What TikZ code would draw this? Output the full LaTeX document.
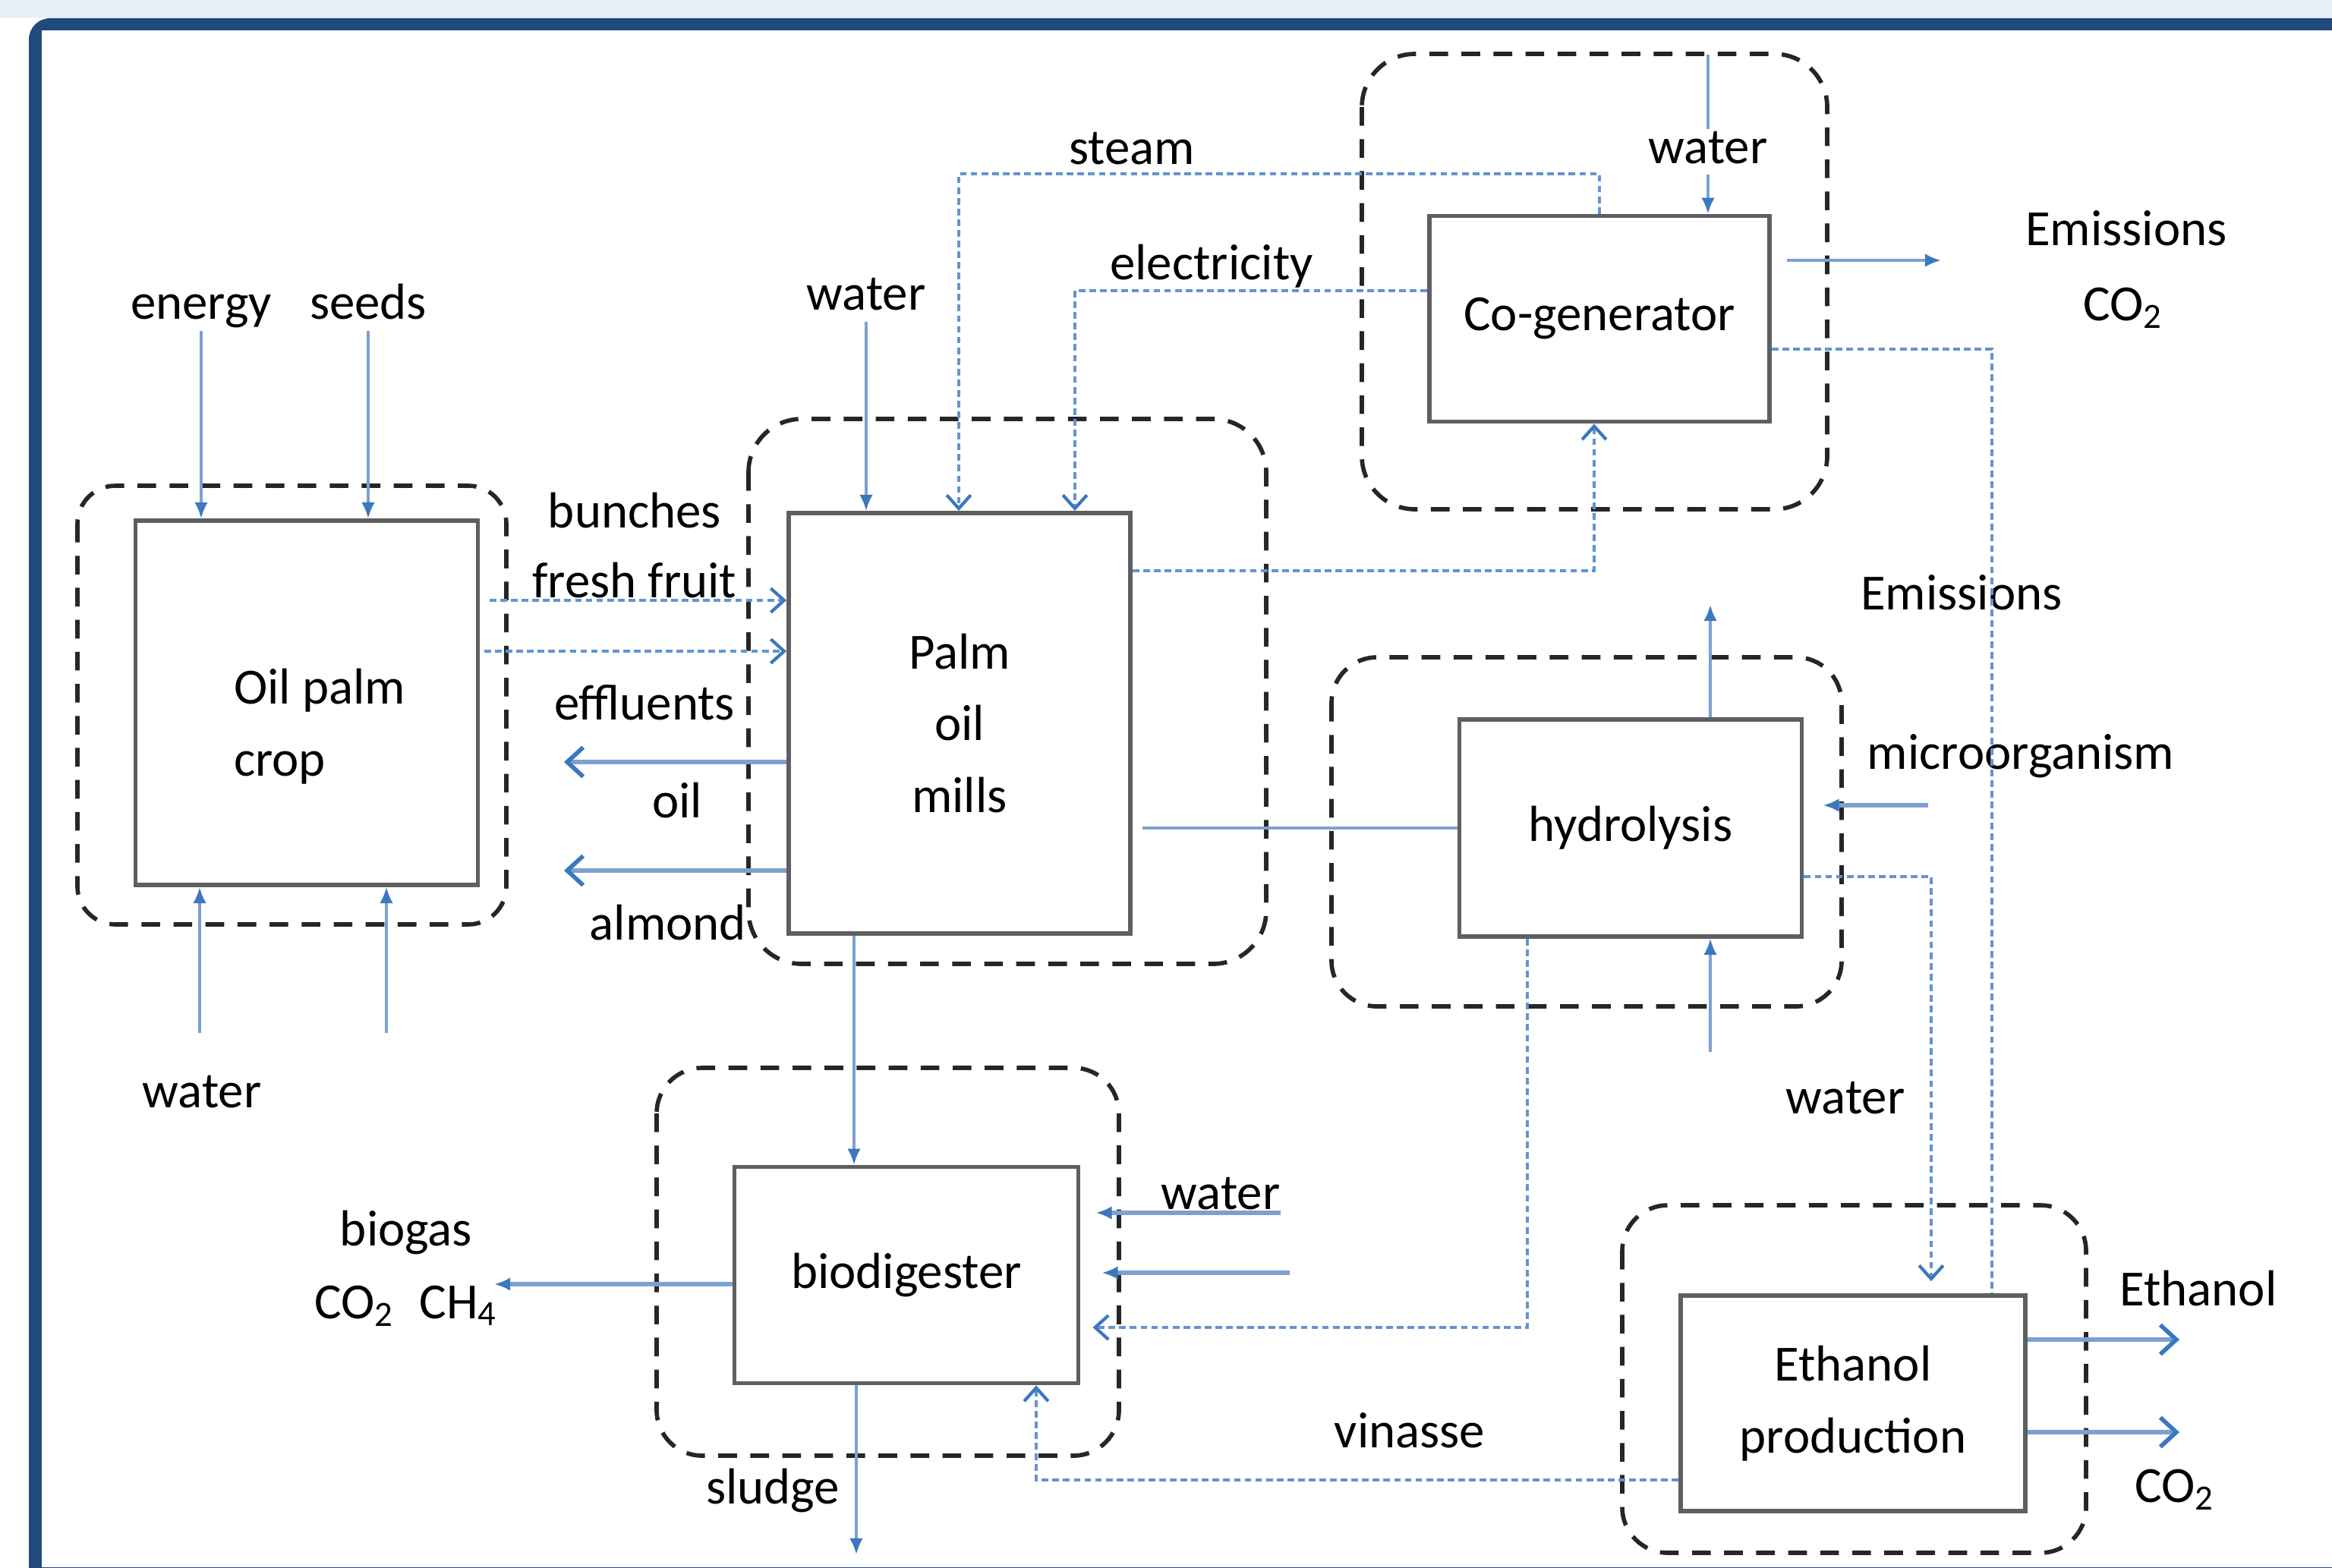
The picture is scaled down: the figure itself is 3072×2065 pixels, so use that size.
\documentclass[tikz,border=0pt]{standalone}
\usepackage{fontspec}
\setmainfont{Carlito}
\usetikzlibrary{arrows.meta}
\definecolor{flowline}{RGB}{125,160,210}
\definecolor{flowtip}{RGB}{60,120,190}
\definecolor{dotline}{RGB}{100,148,205}
\definecolor{boxgray}{RGB}{95,95,95}
\definecolor{band}{RGB}{232,239,248}
\definecolor{frame}{RGB}{32,74,124}
\begin{document}
\begin{tikzpicture}[x=0.01cm,y=-0.01cm,
        font=\fontsize{19}{27}\selectfont,
        every node/.style={inner sep=0pt,text=black,text height=13pt,text depth=4pt},
        proc/.style={draw=boxgray,line width=1.6pt,align=center,text height=,text depth=},
        stage/.style={draw=black!85,line width=1.6pt,dash pattern=on 7pt off 5pt,rounded corners=#1},
        pipe/.style={flowline,line width=1pt,-{Latex[length=6pt,width=5pt,flowtip]}},
        thickpipe/.style={pipe,line width=1.7pt},
        widepipe/.style={flowline,line width=1.7pt,-{Straight Barb[length=6pt,width=11pt,line width=1.6pt,flowtip]}},
        dotpipe/.style={dotline,line width=1pt,dash pattern=on 2.5pt off 1.5pt},
        dotarrow/.style={dotpipe,-{Straight Barb[length=5pt,width=9pt,line width=1.2pt,flowtip]}}]
        \useasboundingbox (0,0) rectangle (3072,2065);
        \fill[band] (0,0) rectangle (3072,24);
        \fill[frame,rounded corners=8pt] (38,24) rectangle (3300,2300);
        \fill[white] (55,40) rectangle (3072,2065);
        \draw[stage=0.5cm] (102,640) rectangle (667,1218);
        \draw[stage=0.7cm] (986,552) rectangle (1668,1270);
        \draw[stage=0.7cm] (1794,71) rectangle (2407,671);
        \draw[stage=0.6cm] (1754,866) rectangle (2426,1326);
        \draw[stage=0.6cm] (865,1407) rectangle (1474,1918);
        \draw[stage=0.6cm] (2137,1588) rectangle (2748,2046);
        \node[proc,minimum width=4.51cm,minimum height=4.8cm] (crop) at (404,926) {};
        \node[align=left,text height=,text depth=] (croptext) at (421,957) {Oil palm\\crop};
        \node[proc,minimum width=4.5cm,minimum height=5.54cm] (mill) at (1264,953) {Palm\\oil\\mills};
        \node[proc,minimum width=4.48cm,minimum height=2.71cm] (cogen) at (2107,420) {Co-generator};
        \node[proc,minimum width=4.51cm,minimum height=2.86cm] (hydro) at (2148,1091) {hydrolysis};
        \node[proc,minimum width=4.53cm,minimum height=2.85cm] (digest) at (1194,1680) {biodigester};
        \node[proc,minimum width=4.54cm,minimum height=2.84cm] (ethanol) at (2441,1849) {Ethanol\\production};
        \node (energy) at (265,405) {energy};
        \node (seeds) at (485,405) {seeds};
        \node (water1) at (266,1444) {water};
        \node (bunches) at (836,680) {bunches};
        \node (fruit) at (836,772) {fresh fruit};
        \node (effluents) at (849,933) {effluents};
        \node (oil) at (892,1062) {oil};
        \node (almond) at (880,1223) {almond};
        \node (water2) at (1141,393) {water};
        \node (steam) at (1491,201) {steam};
        \node (electricity) at (1596,353) {electricity};
        \node (emission1) at (2801,308) {Emissions};
        \node (co2a) at (2797,407) {CO\textsubscript{2}};
        \node (emission2) at (2584,788) {Emissions};
        \node (microorganism) at (2662,998) {microorganism};
        \node (water4) at (2431,1452) {water};
        \node (water5) at (1608,1578) {water};
        \node (biogas) at (535,1626) {biogas};
        \node (gases) at (535,1722) {CO\textsubscript{2}\hspace{0.5em}CH\textsubscript{4}};
        \node (sludge) at (1018,1966) {sludge};
        \node (vinasse) at (1857,1892) {vinasse};
        \node (ethanolout) at (2896,1705) {Ethanol};
        \node (co2b) at (2865,1964) {CO\textsubscript{2}};
        \coordinate (w1) at (263,1361);
        \coordinate (w2) at (509,1361);
        \coordinate (ff1) at (645,791);
        \coordinate (ff2) at (638,858);
        \coordinate (ef) at (743,1004);
        \coordinate (oi) at (743,1147);
        \coordinate (st) at (1263,229);
        \coordinate (el) at (1416,383);
        \coordinate (wc) at (2250,72);
        \coordinate (em) at (2557,343);
        \coordinate (ce) at (2624,460);
        \coordinate (mc) at (2100,752);
        \coordinate (he) at (2253,797);
        \coordinate (hw) at (2253,1386);
        \coordinate (mo) at (2540,1061);
        \coordinate (hl) at (1505,1085);
        \coordinate (he2) at (2544,1155);
        \coordinate (hd) at (2012,1749);
        \coordinate (md) at (1125,1230);
        \coordinate (dw) at (1687,1598);
        \coordinate (dw2) at (1699,1677);
        \coordinate (bg) at (651,1692);
        \coordinate (sl) at (1128,2048);
        \coordinate (vi) at (1365,1950);
        \coordinate (eo) at (2871,1765);
        \coordinate (co) at (2871,1887);
        \path[pipe]
        (energy.south) edge (energy.south |- crop.north)
        (seeds.south) edge (seeds.south |- crop.north)
        (w1) edge (w1 |- crop.south)
        (w2) edge (w2 |- crop.south)
        (water2.south) edge (water2.south |- mill.north)
        (md |- mill.south) edge (md |- digest.north)
        (sl |- digest.south) edge (sl)
        (he |- hydro.north) edge (he)
        (hw) edge (hw |- hydro.south)
        (cogen.east |- em) edge[shorten <=0.2cm] (em);
        \path[thickpipe]
        (digest.west |- bg) edge (bg)
        (mo) edge[shorten >=0.25cm] (mo -| hydro.east)
        (dw) edge[shorten >=0.2cm] (dw -| digest.east)
        (dw2) edge[shorten >=0.28cm] (dw2 -| digest.east);
        \draw[pipe] (wc) -- node[pos=0.61,fill=white,inner xsep=2pt] (water3) {water} (wc |- cogen.north);
        \draw[pipe,-,line width=1.3pt] (hydro.west -| hl) -- (hydro.west);
        \path[widepipe]
        (ef -| mill.west) edge (ef)
        (oi -| mill.west) edge (oi)
        (eo -| ethanol.east) edge (eo)
        (co -| ethanol.east) edge (co);
        \draw[dotarrow] (ff1) -- (ff1 -| mill.west);
        \draw[dotarrow] (ff2) -- (ff2 -| mill.west);
        \draw[dotarrow] (cogen.north) |- (st) -- (st |- mill.north);
        \draw[dotarrow] (el -| cogen.west) -- (el) -- (el |- mill.north);
        \draw[dotarrow] (mc -| mill.east) -- (mc) -- (mc |- cogen.south);
        \draw[dotpipe] (ce -| cogen.east) -- (ce) -- (ce |- ethanol.north);
        \draw[dotarrow,shorten >=0.16cm] (he2 -| hydro.east) -- (he2) -- (he2 |- ethanol.north);
        \draw[dotarrow,shorten >=0.16cm] (hd |- hydro.south) -- (hd) -- (hd -| digest.east);
        \draw[dotarrow] (vi -| ethanol.west) -- (vi) -- (vi |- digest.south);
    \end{tikzpicture}
\end{document}
